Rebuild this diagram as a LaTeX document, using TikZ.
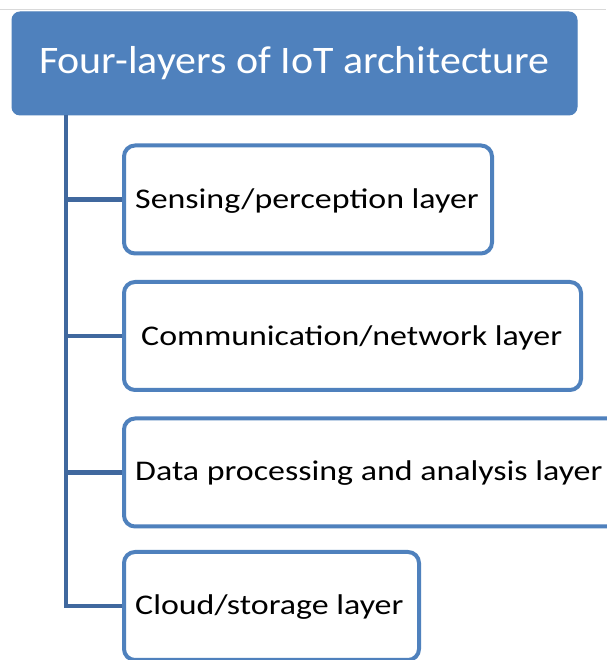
\documentclass[tikz,border=0pt]{standalone}
\usepackage{fontspec}
\setmainfont{Carlito}
\newfontfamily\titlefont[FakeStretch=1.075]{Carlito}
\newfontfamily\layerfont[FakeStretch=1.19]{Carlito}
\definecolor{boxblue}{RGB}{79,129,189}
\definecolor{linkblue}{RGB}{64,104,158}
\definecolor{rulegrey}{RGB}{217,217,217}
\begin{document}
\begin{tikzpicture}[x=1pt,y=1pt,
  titlebox/.style={fill=boxblue, draw=boxblue, line width=1pt, rounded corners=8pt,
    minimum width=565pt, minimum height=103pt, text=white, font=\titlefont\fontsize{39}{45}\selectfont, inner sep=0pt},
  layerbox/.style={draw=boxblue, fill=white, line width=4pt, rounded corners=11pt,
    minimum height=108pt, inner sep=0pt},
  ltext/.style={anchor=west, font=\layerfont\fontsize{28.5}{34}\selectfont, inner sep=0pt, text=black},
  link/.style={draw=linkblue, line width=4.5pt, line join=miter}]
\useasboundingbox (0,0) rectangle (606,660);
\fill[white] (0,0) rectangle (606,660);
\coordinate (rl) at (0,651);
\coordinate (rr) at (606,651);
\draw[rulegrey, line width=0.8pt] (rl) -- (rr);
\node[titlebox] (title) at (294.5,596.5) {Four-layers of IoT architecture};
\coordinate (spine) at (66,545);
\node[layerbox, minimum width=368pt] (l1) at (308,460.5) {};
\node[layerbox, minimum width=457pt] (l2) at (352.5,324) {};
\node[layerbox, minimum width=500pt] (l3) at (374,187.5) {};
\node[layerbox, minimum width=295pt] (l4) at (271.5,54) {};
\draw[link] (spine) |- (l4.west);
\draw[link] (spine |- l1.west) -- (l1.west);
\draw[link] (spine |- l2.west) -- (l2.west);
\draw[link] (spine |- l3.west) -- (l3.west);
\node[ltext] (t1) at ([xshift=13pt,yshift=-2pt]l1.west) {Sensing/perception layer};
\node[ltext] (t2) at ([xshift=19pt,yshift=-2pt]l2.west) {Communication/network layer};
\node[ltext] (t3) at ([xshift=13pt,yshift=-1pt]l3.west) {Data processing and analysis layer};
\node[ltext] (t4) at ([xshift=13pt,yshift=-1pt]l4.west) {Cloud/storage layer};
\end{tikzpicture}
\end{document}
